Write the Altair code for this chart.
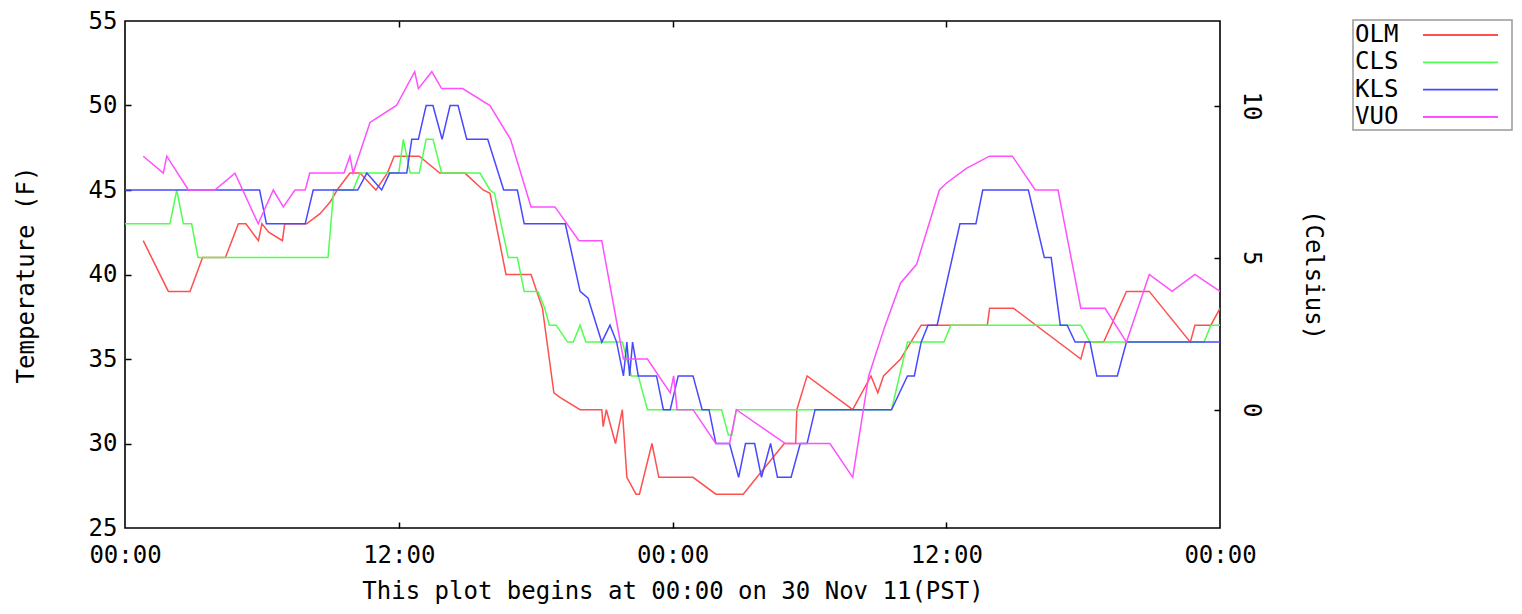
import altair as alt
import pandas as pd

FONT = "DejaVu Sans Mono"
SERIES = ["OLM", "CLS", "KLS", "VUO"]
COLORS = ["#ff5050", "#50ff50", "#4848ff", "#ff50ff"]

# hours since 00:00 on 30 Nov 2011, temperature in F
olm_h = [0.8, 1.9, 2.85, 3.4, 4.4, 4.97, 5.3, 5.85, 6.0, 6.3, 6.9, 7.0, 7.96, 8.55, 9.0, 9.3,
         9.86, 10.3, 11.0, 11.5, 11.8, 12.9, 13.8, 14.9, 15.7, 16.0, 16.7, 17.8, 18.05, 18.3,
         18.8, 19.1, 19.95, 20.9, 20.96, 21.1, 21.5, 21.8, 22.0, 22.4, 22.55, 23.1, 23.4, 24.9,
         25.9, 27.1, 27.7, 28.9, 29.4, 29.45, 29.9, 31.9, 32.7, 33.0, 33.25, 34.0, 34.9, 36.2,
         37.8, 37.9, 38.95, 41.9, 42.1, 42.9, 43.9, 44.9, 46.7, 46.9, 47.6, 48.0]
olm_f = [42, 39, 39, 41, 41, 43, 43, 42, 43, 42.5, 42, 43, 43, 43.6, 44.3, 45,
         46, 46, 45, 46, 47, 47, 46, 46, 45, 44.8, 40, 40, 39, 38,
         33, 32.7, 32, 32, 31, 32, 30, 32, 28, 27, 27, 30, 28, 28,
         27, 27, 28, 30, 30, 32, 34, 32, 34, 33, 34, 35, 37, 37,
         37, 38, 38, 35, 36, 36, 39, 39, 36, 37, 37, 38]

cls_h = [0.0, 1.97, 2.27, 2.56, 2.92, 3.2, 8.9, 9.15, 10.0, 10.3, 12.0, 12.2, 12.5, 12.9,
         13.2, 13.5, 13.88, 15.56, 16.0, 16.2, 16.8, 17.2, 17.5, 18.1, 18.4, 18.6, 18.9, 19.4,
         19.65, 19.95, 20.2, 21.8, 22.2, 22.5, 22.9, 26.15, 26.45, 26.6, 26.8, 33.6, 34.3,
         35.9, 36.2, 41.9, 42.3, 47.3, 47.6, 48.0]
cls_f = [43, 43, 45, 43, 43, 41, 41, 45, 45, 46, 46, 48, 46, 46,
         48, 48, 46, 46, 45, 44.8, 41, 41, 39, 39, 38, 37, 37, 36,
         36, 37, 36, 36, 34, 34, 32, 32, 30.5, 30.5, 32, 32, 36,
         36, 37, 37, 36, 36, 37, 37]

kls_h = [0.0, 5.9, 6.2, 7.9, 8.25, 10.2, 10.6, 11.25, 11.6, 12.35, 12.57, 12.86, 13.2, 13.5,
         13.9, 14.25, 14.6, 14.98, 15.9, 16.6, 17.2, 17.5, 19.3, 19.95, 20.3, 20.9, 21.26,
         21.55, 21.85, 22.0, 22.12, 22.25, 22.5, 23.3, 23.6, 23.9, 24.25, 24.9, 25.3, 25.6,
         25.9, 26.5, 26.9, 27.2, 27.6, 27.9, 28.3, 28.6, 29.2, 29.6, 29.9, 30.25, 33.6, 34.3,
         34.6, 34.9, 35.2, 35.6, 36.6, 37.3, 37.6, 39.6, 40.3, 40.6, 41.0, 41.3, 41.65, 42.3,
         42.6, 43.5, 43.9, 48.0]
kls_f = [45, 45, 43, 43, 45, 45, 46, 45, 46, 46, 48, 48, 50, 50,
         48, 50, 50, 48, 48, 45, 45, 43, 43, 39, 38.6, 36, 37,
         36, 34, 36, 34, 36, 34, 34, 32, 32, 34, 34, 32, 32,
         30, 30, 28, 30, 30, 28, 30, 28, 28, 30, 30, 32, 32, 34,
         34, 36, 37, 37, 43, 43, 45, 45, 41, 41, 37, 37, 36, 36,
         34, 34, 36, 36]

vuo_h = [0.8, 1.68, 1.83, 2.78, 3.94, 4.82, 5.84, 6.5, 6.94, 7.45, 7.9, 8.1, 9.6, 9.86, 10.0,
         10.74, 11.2, 11.9, 12.7, 12.86, 13.45, 13.88, 14.8, 16.0, 16.9, 17.8, 18.85, 19.9,
         20.9, 21.85, 22.9, 23.9, 24.05, 24.2, 24.9, 25.9, 26.5, 26.8, 28.3, 28.95, 30.9, 31.9,
         32.6, 33.3, 34.0, 34.7, 35.7, 36.0, 36.9, 37.9, 38.9, 39.9, 40.9, 41.9, 42.96, 43.9,
         44.9, 45.9, 46.9, 48.0]
vuo_f = [47, 46, 47, 45, 45, 46, 43, 45, 44, 45, 45, 46, 46, 47, 46,
         49, 49.4, 50, 52, 51, 52, 51, 51, 50, 48, 44, 44, 42,
         42, 35, 35, 33, 34, 32, 32, 30, 30, 32, 30.6, 30, 30, 28,
         34, 36.9, 39.5, 40.6, 45, 45.4, 46.3, 47, 47, 45, 45, 38, 38, 36,
         40, 39, 40, 39]

rows = []
for name, hs, fs in [("OLM", olm_h, olm_f), ("CLS", cls_h, cls_f),
                     ("KLS", kls_h, kls_f), ("VUO", vuo_h, vuo_f)]:
    for h, f in zip(hs, fs):
        rows.append({"series": name, "hour": h, "F": f})
df = pd.DataFrame(rows)
legend_df = pd.DataFrame({"series": SERIES})
frame_df = pd.DataFrame({"k": [0]})

F_TICKS = [25, 30, 35, 40, 45, 50, 55]
C_TICKS = [0, 5, 10]
X_TICKS = [0, 12, 24, 36, 48]
W, H = 1095, 507

x_scale = alt.Scale(domain=[0, 48], nice=False, zero=False)
yF = alt.Scale(domain=[25, 55], nice=False, zero=False)
yC = alt.Scale(domain=[(25 - 32) * 5 / 9, (55 - 32) * 5 / 9], nice=False, zero=False)
color_scale = alt.Scale(domain=SERIES, range=COLORS)

base = alt.Chart(df)

lines = base.mark_line(strokeWidth=1.5, clip=True).encode(
    x=alt.X("hour:Q", scale=x_scale,
            axis=alt.Axis(orient="bottom", values=X_TICKS,
                          labelExpr="datum.value % 24 == 0 ? '00:00' : '12:00'",
                          ticks=False, tickSize=0, domain=False, grid=False,
                          labelPadding=15, labelFlush=False,
                          title="This plot begins at 00:00 on 30 Nov 11(PST)",
                          titlePadding=12)),
    y=alt.Y("F:Q", scale=yF,
            axis=alt.Axis(orient="left", values=F_TICKS, ticks=False, tickSize=0,
                          domain=False, grid=False, labelPadding=8, labelFlush=False,
                          title="Temperature (F)", titlePadding=50)),
    color=alt.Color("series:N", scale=color_scale, legend=None),
)

ticksF = base.mark_line(opacity=0).encode(
    x=alt.X("hour:Q", scale=x_scale,
            axis=alt.Axis(orient="top", offset=-H, values=[12, 24, 36], labels=False,
                          domain=False, grid=False, tickSize=6, tickColor="black",
                          tickWidth=1.5, title=None)),
    y=alt.Y("F:Q", scale=yF,
            axis=alt.Axis(orient="right", offset=-W, values=[30, 35, 40, 45, 50],
                          labels=False, domain=False, grid=False, tickSize=6,
                          tickColor="black", tickWidth=1.5, title=None)),
    detail="series:N",
)

celsius = base.transform_calculate(C="(datum.F - 32) * 5 / 9").mark_line(opacity=0).encode(
    x=alt.X("hour:Q", scale=x_scale, axis=None),
    y=alt.Y("C:Q", scale=yC,
            axis=alt.Axis(orient="right", values=C_TICKS, ticks=False, tickSize=0,
                          domain=False, grid=False, labelAngle=90, labelAlign="center",
                          labelBaseline="bottom", labelPadding=18,
                          title="(Celsius)", titlePadding=38)),
    detail="series:N",
)

ticksC = base.transform_calculate(C="(datum.F - 32) * 5 / 9").mark_line(opacity=0).encode(
    x=alt.X("hour:Q", scale=x_scale,
            axis=alt.Axis(orient="bottom", offset=-H, values=[12, 24, 36], labels=False,
                          domain=False, grid=False, tickSize=6, tickColor="black",
                          tickWidth=1.5, title=None)),
    y=alt.Y("C:Q", scale=yC,
            axis=alt.Axis(orient="left", offset=-W, values=C_TICKS, labels=False,
                          domain=False, grid=False, tickSize=6, tickColor="black",
                          tickWidth=1.5, title=None)),
    detail="series:N",
)

# legend (gnuplot style: label on the left, line sample on the right)
legend_y = alt.Y("series:N", sort=SERIES,
                 scale=alt.Scale(type="point", domain=SERIES, range=[14, 96], padding=0),
                 axis=None)
leg_frame = alt.Chart(frame_df).mark_rect(fill="white", stroke="#999999", strokeWidth=1.5).encode(
    x=alt.value(W + 133), x2=alt.value(W + 292), y=alt.value(-1), y2=alt.value(109))
leg_text = alt.Chart(legend_df).mark_text(align="left", baseline="middle", font=FONT,
                                          fontSize=24, color="black").encode(
    x=alt.value(W + 135), y=legend_y, text="series:N")
leg_line = alt.Chart(legend_df).mark_rule(strokeWidth=1.8).encode(
    x=alt.value(W + 203), x2=alt.value(W + 278), y=legend_y,
    color=alt.Color("series:N", scale=color_scale, legend=None))

chart = alt.layer(lines, ticksF, celsius, ticksC, leg_frame, leg_text, leg_line).resolve_scale(
    y="independent"
).resolve_axis(
    x="independent", y="independent"
).properties(
    width=W, height=H,
    autosize=alt.AutoSizeParams(type="none"),
    padding={"left": 117, "top": 13, "right": 294, "bottom": 78},
    background="white",
).configure_view(
    stroke="black", strokeWidth=1.6
).configure_axis(
    labelFont=FONT, titleFont=FONT, labelFontSize=24, titleFontSize=24,
    labelColor="black", titleColor="black", titleFontWeight="normal",
)

chart.save("out.html", embed_options={"renderer": "svg", "actions": False})
